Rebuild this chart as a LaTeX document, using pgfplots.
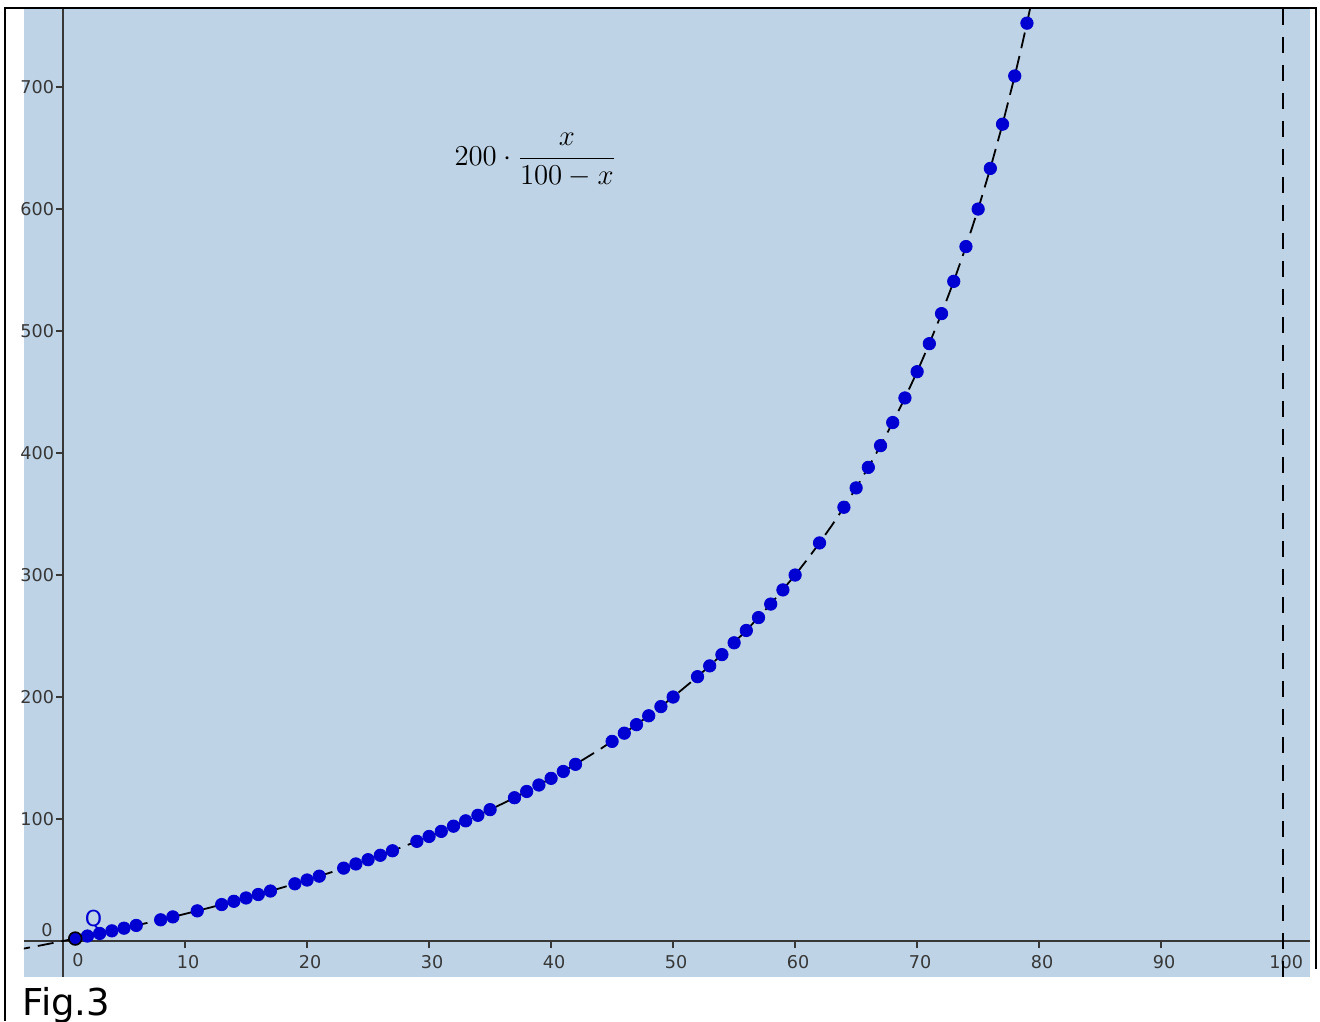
\documentclass[border=0pt]{standalone}
\usepackage{pgfplots}
\pgfplotsset{compat=1.18}
\usepackage{fontspec}
\newfontfamily\dejavu{DejaVu Sans}
\definecolor{bgblue}{RGB}{190,211,230}
\definecolor{dotblue}{RGB}{0,0,210}
\definecolor{axgray}{RGB}{55,55,55}
\begin{document}
\begin{tikzpicture}
\useasboundingbox (-12pt,-22pt) rectangle (648pt,488.5pt);
\begin{axis}[
  at={(0,0)}, anchor=south west,
  scale only axis, width=643pt, height=484pt,
  xmin=-3.2, xmax=102.2, ymin=-29.5, ymax=764,
  axis lines=middle,
  axis line style={axgray, line width=0.8pt, -},
  axis background/.style={fill=bgblue},
  xtick={10,20,...,100}, ytick={100,200,...,700},
  tick align=outside,
  major tick length=3.5pt,
  tick style={axgray, line width=0.8pt},
  xticklabel style={font=\dejavu\fontsize{8.8}{10}\selectfont, text=axgray, xshift=1.5pt},
  yticklabel style={font=\dejavu\fontsize{8.8}{10}\selectfont, text=axgray, xshift=2.5pt},
  /pgf/number format/assume math mode=true,
  clip=true,
]
% dashed curve
\addplot[black, line width=0.9pt, dash pattern=on 8pt off 4pt] coordinates {
(-4,-7.69) (-2,-3.92) (0,0) (2,4.08) (4,8.33) (6,12.77) (8,17.39) (10,22.22)
(12,27.27) (14,32.56) (16,38.10) (18,43.90) (20,50) (22,56.41) (24,63.16)
(26,70.27) (28,77.78) (30,85.71) (32,94.12) (34,103.03) (36,112.50) (38,122.58)
(40,133.33) (42,144.83) (44,157.14) (46,170.37) (48,184.62) (50,200) (52,216.67)
(54,234.78) (56,254.55) (58,276.19) (60,300) (61,312.82) (62,326.32) (63,340.54)
(64,355.56) (65,371.43) (66,388.24) (67,406.06) (68,425) (69,445.16) (70,466.67)
(71,489.66) (72,514.29) (73,540.74) (74,569.23) (75,600) (76,633.33) (77,669.57)
(78,709.09) (78.5,730.23) (79,752.38) (79.5,775.61)
};
% asymptote
\addplot[black, line width=1pt, dash pattern=on 8pt off 6pt] coordinates {(100,-29.5) (100,764)};
% data points
\addplot[only marks, mark=*, mark size=3.1pt, color=dotblue, mark options={draw=dotblue, fill=dotblue}] coordinates {
(2,4.08) (3,6.19) (4,8.33) (5,10.53) (6,12.77) (8,17.39) (9,19.78)
(11,24.72) (13,29.89) (14,32.56) (15,35.29) (16,38.10) (17,40.96) (19,46.91)
(20,50.00) (21,53.16) (23,59.74) (24,63.16) (25,66.67) (26,70.27) (27,73.97)
(29,81.69) (30,85.71) (31,89.86) (32,94.12) (33,98.51) (34,103.03) (35,107.69)
(37,117.46) (38,122.58) (39,127.87) (40,133.33) (41,138.98) (42,144.83)
(45,163.64) (46,170.37) (47,177.36) (48,184.62) (49,192.16) (50,200.00)
(52,216.67) (53,225.53) (54,234.78) (55,244.44) (56,254.55) (57,265.12)
(58,276.19) (59,287.80) (60,300.00) (62,326.32) (64,355.56) (65,371.43)
(66,388.24) (67,406.06) (68,425.00) (69,445.16) (70,466.67) (71,489.66)
(72,514.29) (73,540.74) (74,569.23) (75,600.00) (76,633.33) (77,669.57)
(78,709.09) (79,752.38)
};
\addplot[only marks, mark=*, mark size=3.2pt, mark options={draw=black, fill=dotblue, line width=0.8pt}] coordinates {(1,2.02)};
% labels
\node[anchor=base] at (axis cs:38.7,636) {\fontsize{15.3}{18}\selectfont$\displaystyle 200\cdot\frac{x}{100-x}$};
\node[text=dotblue, font=\dejavu\fontsize{11}{12}\selectfont] at (axis cs:2.5,17.2) {Q};
\node[text=axgray, font=\dejavu\fontsize{8.8}{10}\selectfont] at (axis cs:-1.31,9.0) {0};
\node[text=axgray, font=\dejavu\fontsize{8.8}{10}\selectfont] at (axis cs:1.23,-15.6) {0};
\end{axis}
\draw[black, line width=1pt] (-9.5pt,-22pt) -- (-9.5pt,484.5pt) -- (646pt,484.5pt) -- (646pt,4pt);
\node[anchor=base west, inner sep=0pt, font=\dejavu\fontsize{18.5}{20}\selectfont] at (-1pt,-19pt) {Fig.3};
\end{tikzpicture}
\end{document}
